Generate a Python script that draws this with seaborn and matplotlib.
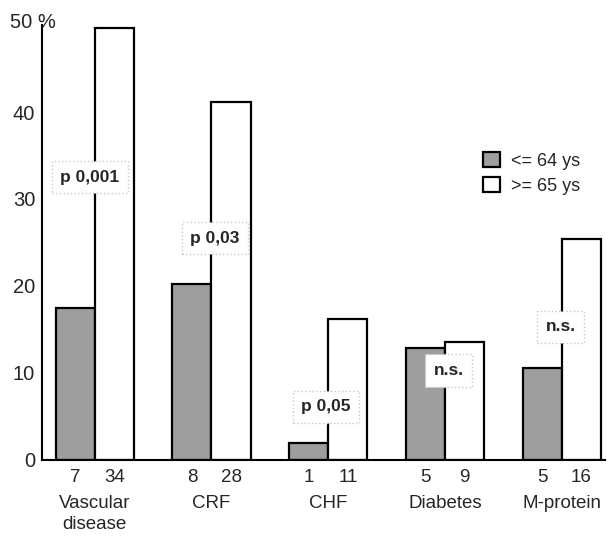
import pandas as pd
import matplotlib.pyplot as plt
import seaborn as sns

categories = ['Vascular\ndisease', 'CRF', 'CHF', 'Diabetes', 'M-protein']
young_pct = [17.5, 20.2, 2.0, 12.9, 10.6]
old_pct = [49.6, 41.1, 16.2, 13.6, 25.4]
young_n = [7, 8, 1, 5, 5]
old_n = [34, 28, 11, 9, 16]
groups = ['<= 64 ys', '>= 65 ys']
p_labels = ['p 0,001', 'p 0,03', 'p 0,05', 'n.s.', 'n.s.']
p_pos = [(-0.04, 32.5), (1.03, 25.5), (1.98, 6.1), (3.03, 10.3), (3.99, 15.3)]

df = pd.DataFrame({
    'disease': categories * 2,
    'pct': young_pct + old_pct,
    'age': [groups[0]] * 5 + [groups[1]] * 5,
    'n': young_n + old_n,
})

sns.set_style('white')
plt.rcParams['font.family'] = ['Liberation Sans', 'DejaVu Sans']

fig = plt.figure(figsize=(6.1, 5.39), dpi=100)
ax = fig.add_axes([0.069, 0.1466, 0.923, 0.807])

sns.barplot(data=df, x='disease', y='pct', hue='age', palette=['#9e9e9e', 'white'],
            edgecolor='black', linewidth=1.6, width=0.67, ax=ax)

ax.set_xlim(-0.45, 4.37)
ax.set_ylim(0, 50)
ax.set_yticks([0, 10, 20, 30, 40, 50])
ax.set_yticklabels(['0', '10', '20', '30', '40', ''], fontsize=14.5)
ax.text(-0.057, 50.3, '50 %', transform=ax.get_yaxis_transform(), ha='left', va='center', fontsize=14.5)
ax.tick_params(axis='both', length=0)
ax.tick_params(axis='y', pad=5)
ax.tick_params(axis='x', pad=25, labelsize=13.5)
for lbl in ax.get_xticklabels():
    lbl.set_linespacing(1.3)
ax.set_xlabel('')
ax.set_ylabel('')
sns.despine(ax=ax)
for side in ['left', 'bottom']:
    ax.spines[side].set_linewidth(1.5)
    ax.spines[side].set_color('black')

# counts under each bar
counts = [young_n, old_n]
for cont, ns in zip(ax.containers, counts):
    for bar, n in zip(cont, ns):
        xc = bar.get_x() + bar.get_width() / 2
        ax.annotate(str(n), xy=(xc, 0), xytext=(0, -18), textcoords='offset pixels',
                    ha='center', va='center', fontsize=13.5)

# significance boxes
for lab, (xp, yp) in zip(p_labels, p_pos):
    ax.text(xp, yp, lab, ha='center', va='center', fontsize=12.5, fontweight='bold',
            bbox=dict(boxstyle='square,pad=0.5', fc='white', ec='#c8c8c8', ls=':', lw=1))

ax.legend(loc='upper left', bbox_to_anchor=(0.755, 0.745), frameon=False, fontsize=13,
          handlelength=0.9, handleheight=0.9, handletextpad=0.6, labelspacing=0.4)

fig.savefig('out.png', dpi=100)
